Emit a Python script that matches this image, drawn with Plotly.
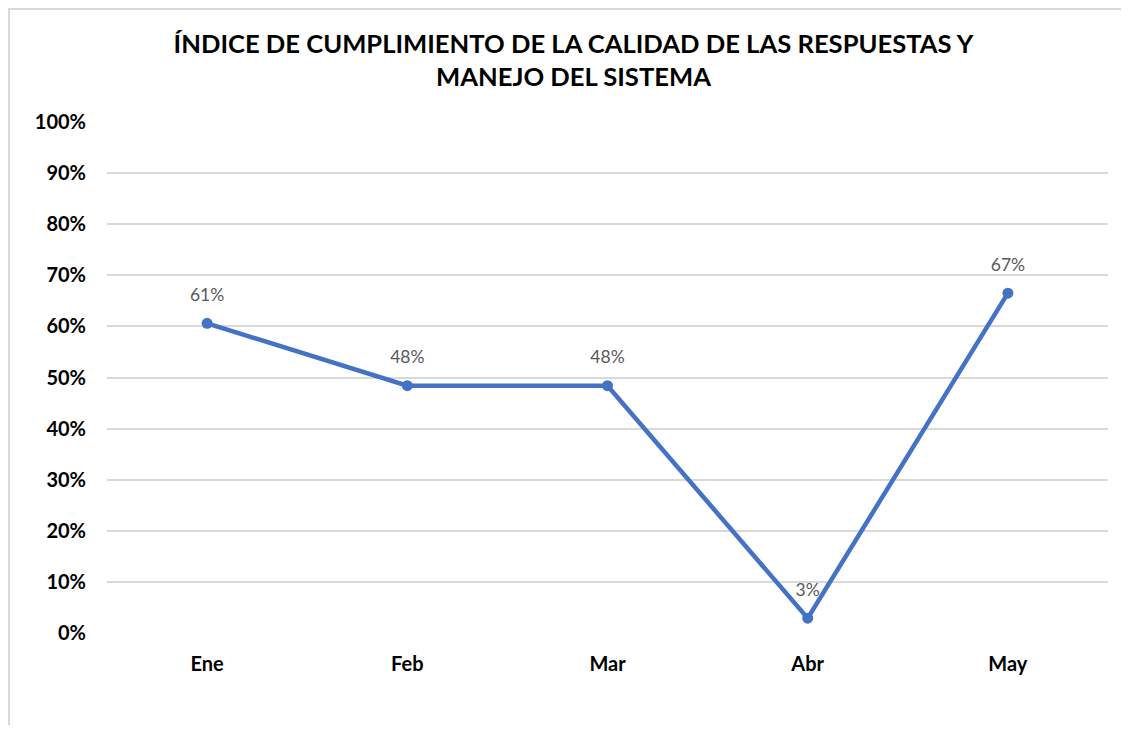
import plotly.graph_objects as go

months = ["Ene", "Feb", "Mar", "Abr", "May"]
values = [0.606, 0.484, 0.484, 0.029, 0.665]
y_ticks = [0, 0.1, 0.2, 0.3, 0.4, 0.5, 0.6, 0.7, 0.8, 0.9, 1.0]
title_text = "ÍNDICE DE CUMPLIMIENTO DE LA CALIDAD DE LAS RESPUESTAS Y<br>MANEJO DEL SISTEMA"

# page body has an 8px margin, so the figure is drawn 8px in from the window
W, H = 1113, 717
L, R, T, B = 99, 13, 114, 92
pw, ph = W - L - R, H - T - B

fig = go.Figure()
fig.add_trace(go.Scatter(
    x=months, y=values,
    mode="lines+markers",
    line=dict(color="#4472C4", width=4.5),
    marker=dict(color="#4472C4", size=11),
    hoverinfo="skip",
))
# labels (invisible larger marker used to push labels up)
fig.add_trace(go.Scatter(
    x=months, y=values,
    mode="markers+text",
    marker=dict(color="rgba(0,0,0,0)", size=27),
    texttemplate="%{y:.0%}",
    textposition="top center",
    textfont=dict(family="Lato", size=17.5, color="#595959"),
    cliponaxis=False,
    hoverinfo="skip",
))

# outer chart border (left and top edges visible)
fig.add_shape(type="rect", xref="paper", yref="paper",
              x0=(1 - L) / pw, x1=(W + 20 - L) / pw,
              y0=-(B + 20) / ph, y1=(H - 1 - B) / ph,
              line=dict(color="#D9D9D9", width=2), layer="below")

fig.update_layout(
    width=W, height=H,
    margin=dict(l=L, r=R, t=T, b=B, pad=0),
    paper_bgcolor="white", plot_bgcolor="white",
    showlegend=False,
    title=dict(text=title_text, x=(573.5 - 8) / W, xanchor="center",
               y=1 - 45 / H, yanchor="middle", yref="container",
               font=dict(family="Lato", size=25.6, color="black", weight="bold")),
    xaxis=dict(range=[-0.5, len(months) - 0.5],
               showgrid=False, zeroline=False, showline=False, ticks="",
               tickfont=dict(family="Lato", size=20, color="black", weight="bold"),
               ticklabelstandoff=17, fixedrange=True),
    yaxis=dict(range=[0, 1], tickvals=y_ticks, tickformat=".0%",
               showgrid=True, gridcolor="#D9D9D9", gridwidth=2,
               zeroline=False, showline=False, ticks="",
               tickfont=dict(family="Lato", size=20, color="black", weight="bold"),
               ticklabelstandoff=20, fixedrange=True),
)

fig.write_html("out.html")
